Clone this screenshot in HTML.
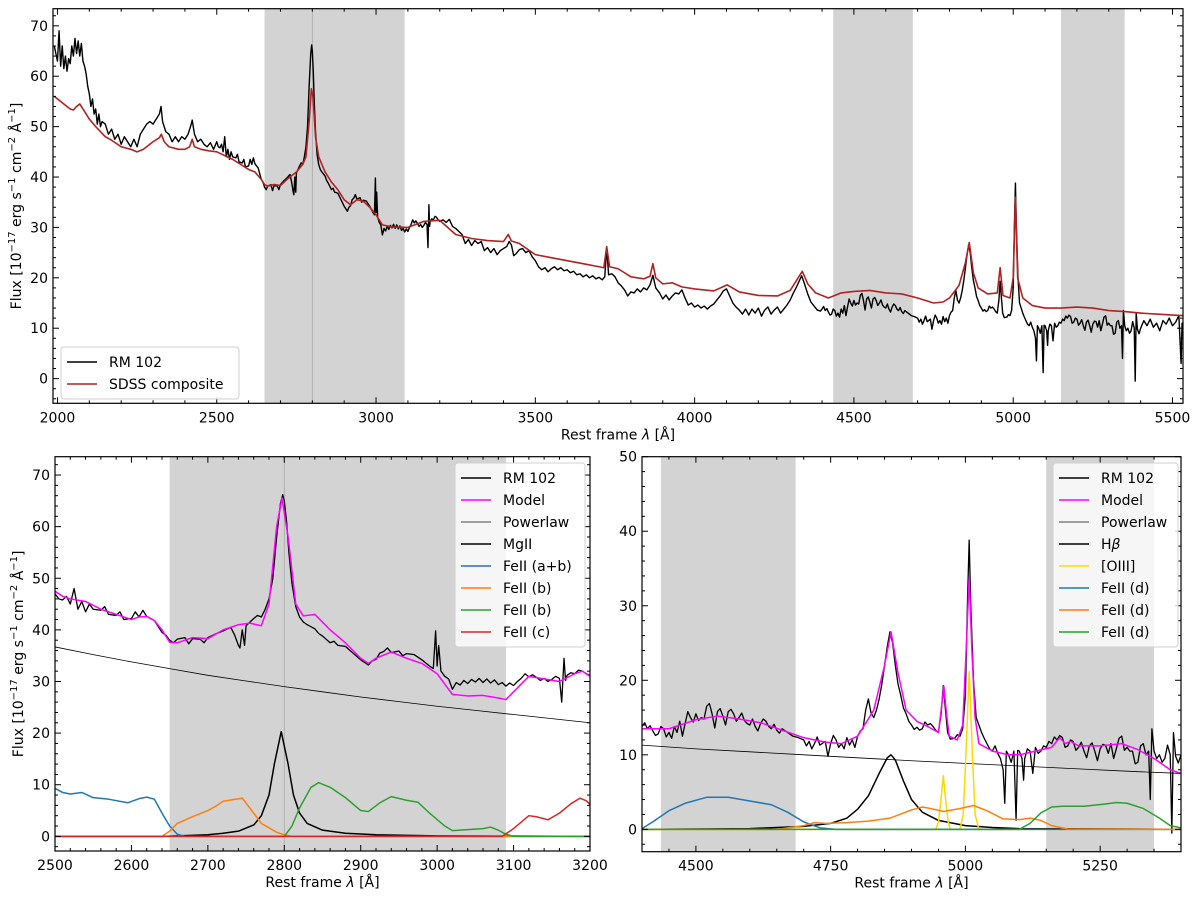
<!DOCTYPE html>
<html><head><meta charset="utf-8"><style>
html,body{margin:0;padding:0;background:#fff;}
svg{display:block;font-family:"DejaVu Sans","Liberation Sans",sans-serif;}
</style></head><body>
<svg id="fig" width="1200" height="900" viewBox="0 0 1200 900" xmlns="http://www.w3.org/2000/svg"></svg>
<script>
// ---------- DATA ----------
const rm102 = [[1990,66],[2000,63],[2005,69],[2010,62],[2015,66],[2020,61.5],[2025,64],[2030,61],[2035,63.5],[2040,62.5],[2045,66],[2050,64],[2055,67.5],[2060,64.5],[2065,67],[2070,64],[2075,66.5],[2080,63],[2085,62],[2090,60.5],[2095,58],[2100,56.5],[2105,54],[2110,55.5],[2115,52.5],[2120,53.5],[2125,50.5],[2130,52.5],[2135,50],[2140,51],[2150,50.5],[2160,48.5],[2170,49.5],[2180,47.5],[2190,48.5],[2200,46.5],[2210,48],[2220,47],[2230,46],[2240,47.5],[2250,46],[2260,48.5],[2270,49.5],[2280,50.5],[2290,51],[2300,50.5],[2310,51.5],[2320,52.5],[2325,54],[2330,51],[2340,49],[2350,48.5],[2360,47],[2370,48],[2380,47],[2390,48],[2400,47.5],[2410,48.5],[2420,50.5],[2423,51.3],[2430,48.5],[2440,47],[2450,47.5],[2460,46.5],[2470,46],[2480,46.8],[2490,45.5],
[2500,47],[2505,46],[2510,45.8],[2515,46.5],[2520,45],[2525,48],[2530,44],[2535,45.5],[2540,43.5],[2545,45],[2550,44],[2560,43.8],[2565,44.5],[2570,43],[2580,42.8],[2585,43.5],[2590,42],[2600,42.2],[2605,43.5],[2610,42.5],[2615,43.8],[2620,42.6],[2630,41.8],[2640,39.5],[2645,39],[2650,38],[2655,37.5],[2660,38.2],[2670,38.5],[2675,37.3],[2680,38.3],[2690,38.2],[2695,37.5],[2700,38.5],[2710,39.2],[2720,39.8],[2730,40.5],[2735,39],[2740,37],[2742,36.5],[2745,40],[2748,37],[2750,40.8],[2760,42.2],[2765,42.8],[2770,42.5],[2775,44],[2780,46],[2785,50],[2790,58],[2795,64.5],[2798,66.2],[2800,65],[2803,61],[2806,55],[2810,49],[2815,44.5],[2820,42.5],[2825,41.5],[2830,41],[2840,40.2],[2845,39.3],[2850,38.8],[2860,37.5],[2865,37.8],[2870,37],[2880,36.8],[2890,35.5],[2900,34.2],[2910,33.2],[2915,34],[2920,34.3],[2925,35.5],[2930,35.8],[2935,36.5],[2940,35.6],[2950,35.9],[2955,35],[2960,35.4],[2970,35.2],[2980,34.2],[2990,33],[2995,32.5],[2998,39.8],[3000,33],[3002,37],[3005,32],[3010,31],[3015,30.5],[3020,28.5],[3025,29.8],[3030,29.3],[3035,30.2],[3040,29.6],[3045,30.4],[3050,29.9],[3055,30.6],[3060,29.8],[3065,30.5],[3070,29.7],[3075,30.3],[3080,29.4],[3085,29.8],[3090,29.1],[3095,29.7],[3100,29.2],[3105,30],[3110,30.6],[3115,31.5],[3120,30.9],[3125,31.3],[3130,30.8],[3135,30.2],[3140,30.6],[3145,30],[3150,30.4],[3155,31],[3160,30.6],[3163,26],[3166,34.5],[3168,30.2],[3170,31.2],[3175,31.7],[3180,31.5],[3185,32.2],[3190,32],[3195,31.5],[3200,31.2],
[3210,31.5],[3220,31.0],[3230,31.6],[3240,30.2],[3250,29.8],[3260,29.2],[3270,28.6],[3280,26.8],[3290,27.6],[3300,26.4],[3310,27.4],[3320,26.8],[3330,27.2],[3340,25.4],[3350,26],[3360,25],[3370,25.8],[3380,24.6],[3390,25.4],[3400,25.8],[3410,26.2],[3418,27.2],[3425,26.5],[3432,24.4],[3440,24.8],[3450,25.6],[3460,25.8],[3470,25],[3480,25.4],[3490,24.2],[3500,23.4],[3510,22.2],[3520,21.6],[3530,22],[3540,21.2],[3550,21.8],[3560,22.2],[3570,21.6],[3580,22],[3590,21.4],[3600,21.6],[3610,21],[3620,21.3],[3630,20.6],[3640,20.8],[3650,20.2],[3660,20.6],[3670,20],[3680,20.4],[3690,19.8],[3700,20.1],[3710,19.6],[3718,20.2],[3724,26],[3730,20.6],[3740,20.8],[3750,20.2],[3760,19],[3770,18.4],[3780,17.6],[3790,16.4],[3800,17.2],[3810,17],[3820,17.8],[3830,17.2],[3840,18],[3850,17.6],[3860,18.6],[3869,20.5],[3878,18],[3890,17],[3900,15.8],[3910,16.6],[3920,15.6],[3930,16.4],[3940,17],[3950,16.8],[3960,17.6],[3970,16],[3980,14.6],[3990,15],[4000,14.2],[4010,14.6],[4020,14],[4030,14.4],[4040,13.8],[4050,14.4],[4060,14.8],[4070,15.6],[4080,16.4],[4090,17.4],[4100,17.8],[4110,16.4],[4120,15],[4130,14.2],[4140,13.6],[4150,12.8],[4160,13.8],[4170,12.6],[4180,13.8],[4190,13],[4200,14],[4210,12.4],[4220,13.6],[4230,14.2],[4240,12.8],[4250,13.6],[4260,14.2],[4270,13],[4280,13.8],[4290,14.6],[4300,15.6],[4310,17],[4320,18.2],[4330,19.6],[4336,20.4],[4345,18.8],[4355,16.8],[4365,15.2],[4375,14.4],[4385,13.6],[4395,13.4],
[4400,13.8],[4405,14.3],[4410,13.5],[4415,13.9],[4420,13.2],[4425,12.6],[4430,12.8],[4435,13.8],[4440,13.5],[4445,12.4],[4450,13],[4455,12.2],[4460,13.8],[4465,13],[4470,14.5],[4475,12.5],[4480,14.2],[4485,15.8],[4490,15],[4495,14.4],[4500,15.5],[4505,14.6],[4510,15],[4515,14.8],[4520,16.5],[4525,16.9],[4530,15.5],[4535,13.6],[4540,15.8],[4545,16.2],[4550,15.2],[4555,14],[4560,15.8],[4565,16.1],[4570,15.5],[4575,14.5],[4580,15],[4585,15.6],[4590,14.6],[4595,14.2],[4600,14],[4605,14.8],[4610,13.8],[4615,13.2],[4620,14.2],[4625,14.8],[4630,14.5],[4635,13.8],[4640,13.5],[4645,14.1],[4650,13.3],[4655,12.9],[4660,13.5],[4670,13],[4680,12.5],[4690,12.3],[4700,12],[4705,11.2],[4710,11.8],[4715,10.8],[4720,11.5],[4725,12.4],[4730,11.3],[4740,11.8],[4745,9.8],[4750,11.5],[4755,12.6],[4760,12],[4765,11],[4770,11.5],[4775,10.8],[4780,12.3],[4785,11.3],[4790,12],[4795,11],[4800,12.5],[4805,13.2],[4810,13.5],[4815,16],[4820,17.5],[4825,15.6],[4830,15],[4835,16],[4840,17.5],[4845,19.5],[4850,22],[4855,24.5],[4860,26.5],[4865,25],[4870,22],[4875,19.5],[4880,18],[4885,16.3],[4890,15.5],[4895,14.5],[4900,14],[4905,13.4],[4910,13.7],[4915,13.3],[4920,13.5],[4925,14.4],[4930,14],[4935,14.2],[4940,13.8],[4945,13.3],[4950,13],[4955,15.5],[4959,19.3],[4963,16],[4967,13],[4972,12.1],[4980,12.2],[4985,12.7],[4990,12.5],[4995,13.5],[5000,18],[5004,31],[5007,38.8],[5010,30],[5015,20],[5020,15],[5025,14],[5030,13],[5035,12.2],[5040,11.5],[5045,10.8],[5050,10.5],[5055,11.2],[5060,10.2],[5065,9.5],[5070,8],[5073,3.5],[5076,10.5],[5080,10],[5085,9],[5090,10.5],[5094,1.2],[5097,10.6],[5100,10.5],[5105,9.5],[5108,6.6],[5110,9.5],[5115,10.8],[5120,10.5],[5125,7.5],[5130,11],[5135,10.2],[5140,10.5],[5145,11.2],[5150,11],[5155,11.8],[5160,11.5],[5165,12.4],[5170,12],[5175,12.6],[5180,12.3],[5185,11],[5190,11.2],[5195,12],[5200,11.8],[5205,10.6],[5210,11],[5215,11.7],[5220,10.5],[5225,9.6],[5230,11.2],[5235,11.6],[5240,10.5],[5245,9.2],[5250,10.8],[5255,11.4],[5260,11.3],[5265,10.2],[5270,11.5],[5275,9.5],[5280,10.8],[5285,12.2],[5290,12.5],[5295,10.6],[5300,11],[5305,10.5],[5310,10.5],[5315,8.8],[5320,9],[5325,11.2],[5330,11.5],[5335,10],[5340,10.5],[5343,4],[5346,13.5],[5350,10.5],[5355,9.5],[5360,10],[5365,9],[5370,9.5],[5375,11.3],[5380,10],[5383,-0.5],[5386,13],[5390,9.8],[5395,8.9],[5400,10],
[5410,11.5],[5420,10.5],[5430,11.8],[5440,10.2],[5450,11],[5460,9.5],[5470,11.5],[5480,10.8],[5490,12],[5500,10.5],[5510,11.2],[5520,12.5],[5527,3],[5530,11],[5533,11]];

const sdssComposite = [[1990,56],[2000,55.5],[2020,54.5],[2040,53.5],[2050,53.3],[2060,54],[2070,54.5],[2080,53.5],[2100,51.5],[2120,50],[2150,48],[2170,47.3],[2200,46],[2230,45.5],[2250,45],[2270,45.5],[2300,47],[2320,47.8],[2326,48.5],[2335,47],[2350,46],[2380,45.5],[2400,45.5],[2415,46],[2423,47.5],[2430,46],[2450,45.5],[2475,45.2],[2500,45],[2550,43.5],[2600,41.5],[2620,41],[2640,39.5],[2650,38.5],[2660,38.2],[2680,38.5],[2700,38.3],[2720,39.5],[2750,41],[2770,42.5],[2780,44],[2790,51],[2797,57.5],[2802,56],[2810,48],[2820,44],[2840,41],[2860,39],[2880,37.5],[2900,35.5],[2920,34.5],[2940,35.5],[2960,35.2],[2980,34],[3000,32.5],[3020,30.5],[3050,30.1],[3100,30],[3150,31.2],[3200,31.4],[3250,28.6],[3300,27.8],[3350,27.4],[3400,27.2],[3415,28.6],[3425,27.3],[3450,26.8],[3500,24.6],[3550,24],[3600,23.4],[3650,22.8],[3700,22.2],[3715,22],[3724,26.2],[3733,22.2],[3760,21.8],[3800,20.2],[3840,19.8],[3860,20.3],[3869,22.8],[3878,20],[3900,18.8],[3930,19],[3960,18.2],[4000,17.8],[4060,17.4],[4102,18.6],[4140,17.2],[4200,16.5],[4260,16.4],[4300,17.5],[4320,19.5],[4338,21.3],[4355,18.8],[4380,17],[4420,16],[4460,17],[4500,17.3],[4550,17.5],[4600,17],[4650,16.8],[4700,16],[4750,15],[4780,15.2],[4800,16],[4830,18.5],[4850,23],[4862,27],[4875,21],[4890,18],[4920,16.8],[4950,17],[4959,22],[4968,16.5],[4990,16],[5000,20],[5007,36],[5014,20],[5030,16],[5060,14.5],[5100,14],[5150,14],[5200,14.2],[5250,14],[5300,13.5],[5350,13.3],[5400,13],[5450,12.8],[5500,12.6],[5533,12.5]];

// Bottom-left components
const mgModel = [[2500,47.5],[2510,46.5],[2520,46],[2540,45.5],[2560,44],[2580,43],[2600,42],[2610,42.5],[2620,42.6],[2630,41.8],[2640,40],[2650,37.6],[2660,37.5],[2680,38.5],[2700,38.3],[2720,40],[2740,41],[2755,41.3],[2770,40.8],[2780,45],[2790,60],[2797,65.5],[2805,58],[2815,45],[2825,42.7],[2840,43],[2860,40],[2880,37.5],[2900,34.5],[2910,33.5],[2920,34.5],[2940,35.7],[2960,34.5],[2980,33.5],[3000,31.5],[3020,27.5],[3040,27.2],[3060,27.3],[3080,26.8],[3090,26.5],[3100,28],[3120,31],[3140,30.5],[3160,30],[3180,31.5],[3190,32],[3200,31]];
const mgPowerlaw = [[2500,36.7],[2550,35.2],[2600,33.8],[2650,32.5],[2700,31.2],[2750,30.1],[2800,29.0],[2850,28.0],[2900,27.0],[2950,26.1],[3000,25.2],[3050,24.4],[3100,23.6],[3150,22.8],[3200,22.0]];
const mgLine = [[2500,0],[2640,0],[2660,0.1],[2700,0.3],[2720,0.6],[2740,1.0],[2760,2.2],[2770,4],[2780,8],[2787,14],[2796,20.3],[2805,14],[2812,8],[2820,4.5],[2830,2.5],[2850,1.2],[2880,0.6],[2920,0.3],[3000,0.1],[3200,0]];
const feAB = [[2500,9.3],[2510,8.5],[2520,8.2],[2535,8.5],[2550,7.5],[2570,7.2],[2595,6.5],[2610,7.3],[2620,7.6],[2630,7.2],[2640,4.5],[2650,2],[2660,0.4],[2670,0],[3200,0]];
const feB1 = [[2500,0],[2640,0],[2650,1],[2660,2.5],[2680,3.8],[2700,5],[2710,5.8],[2720,6.8],[2745,7.4],[2760,4.5],[2770,2.5],[2790,0.8],[2800,0.3],[2810,0],[3200,0]];
const feB2 = [[2500,0],[2800,0],[2810,2],[2820,5.5],[2835,9.5],[2845,10.4],[2860,9.5],[2880,7.5],[2900,5],[2910,4.8],[2925,6.5],[2940,7.7],[2960,7],[2975,6.6],[2990,4.5],[3010,2],[3020,1.1],[3040,1.3],[3060,1.5],[3070,1.8],[3080,1.2],[3090,0.4],[3100,0],[3200,0]];
const feC = [[2500,0],[3085,0],[3100,1.5],[3120,4],[3130,3.8],[3145,3.2],[3160,4.5],[3175,6.3],[3187,7.4],[3195,6.9],[3200,6.2]];

// Bottom-right components
const hbModel = [[4400,13.5],[4450,13.5],[4500,14.7],[4540,15.2],[4580,14.8],[4620,14.3],[4660,13.3],[4700,12.3],[4740,11.7],[4770,11.5],[4800,12.5],[4830,16],[4850,22],[4862,26.5],[4875,21],[4890,16],[4910,14.5],[4930,13.8],[4950,13],[4955,16],[4960,19.2],[4965,15.5],[4970,12.5],[4985,12],[4995,14],[5002,25],[5007,33.8],[5012,24],[5018,15],[5025,11.5],[5050,10.5],[5080,10],[5100,10],[5130,10.5],[5160,11],[5175,12.3],[5185,11.5],[5195,11.8],[5210,11.2],[5250,11.2],[5290,11.5],[5320,10.7],[5350,9.5],[5380,8],[5400,7.5]];
const hbPowerlaw = [[4400,11.3],[4500,10.8],[4600,10.4],[4700,10.0],[4800,9.6],[4900,9.2],[5000,8.85],[5100,8.5],[5200,8.15],[5300,7.8],[5400,7.5]];
const hbLine = [[4400,0],[4600,0.1],[4700,0.4],[4750,0.8],[4780,1.5],[4800,2.7],[4820,4.5],[4840,7.5],[4855,9.6],[4862,10],[4870,9.3],[4885,6.5],[4900,4],[4920,2.3],[4950,1.2],[5000,0.5],[5050,0.25],[5100,0.1],[5400,0]];
const oiii = [[4400,0],[4945,0],[4950,1],[4954,3.5],[4959,7.2],[4964,3.5],[4968,1],[4972,0],[4990,0],[4996,2],[5001,10],[5007,21.2],[5013,10],[5018,2],[5025,0],[5400,0]];
const feD1 = [[4400,0.1],[4420,1],[4450,2.5],[4480,3.5],[4520,4.3],[4560,4.3],[4600,3.8],[4640,3.3],[4670,2.3],[4700,1],[4730,0.2],[4760,0],[5400,0]];
const feD2 = [[4400,0],[4650,0],[4700,0.5],[4720,0.9],[4740,0.8],[4780,0.9],[4820,1.1],[4860,1.5],[4900,2.6],[4920,3],[4935,2.8],[4960,2.4],[4990,2.8],[5015,3.2],[5040,2.5],[5070,1.4],[5100,1.3],[5120,1.5],[5140,1.2],[5160,0.5],[5190,0.05],[5400,0]];
const feD3 = [[4400,0],[5100,0],[5120,0.8],[5140,2.2],[5160,3],[5180,3.1],[5220,3.1],[5260,3.4],[5280,3.6],[5300,3.5],[5330,2.8],[5360,1.5],[5380,0.5],[5400,0.2]];

const bandsTop = [[2650,3090],[4435,4685],[5150,5350]];
const bandsLeft = [[2650,3090]];
const bandsRight = [[4435,4685],[5150,5350]];
const xTicksTop = [2000,2500,3000,3500,4000,4500,5000,5500];
const xTicksLeft = [2500,2600,2700,2800,2900,3000,3100,3200];
const xTicksRight = [4500,4750,5000,5250];
const yTicks70 = [0,10,20,30,40,50,60,70];
const yTicks50 = [0,10,20,30,40,50];

// ---------- DRAWING ----------
const NS = 'http://www.w3.org/2000/svg';
const svg = document.getElementById('fig');
function mk(tag, attrs, parent){
  const e = document.createElementNS(NS, tag);
  for (const k in attrs) e.setAttribute(k, attrs[k]);
  (parent||svg).appendChild(e);
  return e;
}
function panel(cfg){
  const g = mk('g', {});
  
  
  const sx = v => cfg.x0 + (v - cfg.xl[0]) / (cfg.xl[1]-cfg.xl[0]) * (cfg.x1-cfg.x0);
  const sy = v => cfg.y1 - (v - cfg.yl[0]) / (cfg.yl[1]-cfg.yl[0]) * (cfg.y1-cfg.y0);
  const cid = 'clip-' + cfg.name;
  const cp = mk('clipPath', {id: cid}, g);
  mk('rect', {x:cfg.x0, y:cfg.y0, width:cfg.x1-cfg.x0, height:cfg.y1-cfg.y0}, cp);
  const inner = mk('g', {'clip-path':'url(#'+cid+')'}, g);
  return {g, inner, sx, sy, cfg};
}
function bands(p, arr){
  arr.forEach(b => {
    const r = mk('rect', {x:p.sx(b[0]), y:p.cfg.y0, width:p.sx(b[1])-p.sx(b[0]), height:p.cfg.y1-p.cfg.y0, fill:'#d3d3d3'}, p.inner);
    
    
  });
}
function vline(p, w){
  const l = mk('line', {x1:p.sx(w), x2:p.sx(w), y1:p.cfg.y0, y2:p.cfg.y1, stroke:'#a8a8a8', 'stroke-width':0.8}, p.inner);
  
  
}
function series(p, data, color, w, name){
  const pts = data.map(d => p.sx(d[0]).toFixed(2)+','+p.sy(d[1]).toFixed(2)).join(' ');
  const l = mk('polyline', {points:pts, fill:'none', stroke:color, 'stroke-width':w, 'stroke-linejoin':'round'}, p.inner);
  
  
}
function axes(p, xt, xminor, yt, yminor, showYLabels){
  const c = p.cfg;
  const fr = mk('rect', {x:c.x0, y:c.y0, width:c.x1-c.x0, height:c.y1-c.y0, fill:'none', stroke:'#000', 'stroke-width':1.2}, p.g);
  
  
  const tg = mk('g', {stroke:'#000', 'stroke-width':1}, p.g);
  
  
  for (let v = Math.ceil(c.xl[0]/xminor)*xminor; v <= c.xl[1]; v += xminor){
    const X = p.sx(v);
    const major = xt.indexOf(v) >= 0;
    const L = major ? 6 : 3;
    mk('line', {x1:X, x2:X, y1:c.y1, y2:c.y1-L}, tg);
    mk('line', {x1:X, x2:X, y1:c.y0, y2:c.y0+L}, tg);
  }
  for (let v = Math.ceil(c.yl[0]/yminor)*yminor; v <= c.yl[1]; v += yminor){
    const Y = p.sy(v);
    const major = yt.indexOf(v) >= 0;
    const L = major ? 6 : 3;
    mk('line', {x1:c.x0, x2:c.x0+L, y1:Y, y2:Y}, tg);
    mk('line', {x1:c.x1, x2:c.x1-L, y1:Y, y2:Y}, tg);
  }
  xt.forEach(v => {
    const t = mk('text', {x:p.sx(v), y:c.y1+19, 'text-anchor':'middle', 'font-size':14, fill:'#000'}, p.g);
    t.textContent = v;
    
    
  });
  yt.forEach(v => {
    const t = mk('text', {x:c.x0-5, y:p.sy(v)+5, 'text-anchor':'end', 'font-size':14, fill:'#000'}, p.g);
    t.textContent = v;
    
    
  });
  const xl = mk('text', {x:(c.x0+c.x1)/2, y:c.y1+36, 'text-anchor':'middle', 'font-size':14, fill:'#000'}, p.g);
  xl.innerHTML = 'Rest frame <tspan font-style="italic">λ</tspan> [Å]';
  
  
  if (showYLabels){
    const cy = (c.y0+c.y1)/2;
    const yl = mk('text', {x:0, y:0, transform:'translate('+(c.x0-32)+','+cy+') rotate(-90)', 'text-anchor':'middle', 'font-size':14, fill:'#000'}, p.g);
    yl.innerHTML = 'Flux [10<tspan dy="-6" font-size="10">−17</tspan><tspan dy="6"> erg s</tspan><tspan dy="-6" font-size="10">−1</tspan><tspan dy="6"> cm</tspan><tspan dy="-6" font-size="10">−2</tspan><tspan dy="6"> Å</tspan><tspan dy="-6" font-size="10">−1</tspan><tspan dy="6">]</tspan>';
    
    
  }
}
function legend(p, x, y, w, entries){
  const h = entries.length*22 + 8;
  const lg = mk('g', {}, p.g);
  
  
  mk('rect', {x:x, y:y, width:w, height:h, rx:3, fill:'#fff', 'fill-opacity':0.8, stroke:'#d0d0d0', 'stroke-width':1}, lg);
  entries.forEach((e, i) => {
    const cy = y + 15 + i*22;
    const eg = mk('g', {}, lg);
    
    
    mk('line', {x1:x+6, x2:x+36, y1:cy, y2:cy, stroke:e[1], 'stroke-width':1.6}, eg);
    const t = mk('text', {x:x+48, y:cy+5, 'font-size':14, fill:'#000'}, eg);
    t.innerHTML = e[0];
  });
}

// Top panel
const pt = panel({name:'top-panel', x0:53, x1:1183, y0:8.7, y1:403.3, xl:[1986,5533], yl:[-4.9,73.4]});
bands(pt, bandsTop);
vline(pt, 2800);
series(pt, rm102, '#000', 1.4, 'rm102-spectrum');
series(pt, sdssComposite, '#b22222', 1.6, 'sdss-composite-line');
axes(pt, xTicksTop, 100, yTicks70, 2, true);
legend(pt, 61, 347, 178, [['RM 102','#000'],['SDSS composite','#b22222']]);

// Bottom-left panel
const pl = panel({name:'mgii-panel', x0:55, x1:590, y0:456.7, y1:851, xl:[2500,3200], yl:[-2.84,73.55]});
bands(pl, bandsLeft);
vline(pl, 2800);
series(pl, rm102, '#000', 1.3, 'rm102-spectrum');
series(pl, mgModel, '#ff00ff', 1.5, 'model-line');
series(pl, mgPowerlaw, '#000', 0.8, 'powerlaw-line');
series(pl, mgLine, '#000', 1.5, 'mgii-line');
series(pl, feAB, '#1f77b4', 1.5, 'feii-ab-line');
series(pl, feB1, '#ff7f0e', 1.5, 'feii-b-orange-line');
series(pl, feB2, '#2ca02c', 1.5, 'feii-b-green-line');
series(pl, feC, '#d62728', 1.5, 'feii-c-line');
axes(pl, xTicksLeft, 20, yTicks70, 2, true);
legend(pl, 455, 463, 130, [['RM 102','#000'],['Model','#ff00ff'],['Powerlaw','#808080'],['MgII','#000'],['FeII (a+b)','#1f77b4'],['FeII (b)','#ff7f0e'],['FeII (b)','#2ca02c'],['FeII (c)','#d62728']]);

// Bottom-right panel
const pr = panel({name:'hbeta-panel', x0:642, x1:1181, y0:456.7, y1:851.7, xl:[4400,5400], yl:[-3,50]});
bands(pr, bandsRight);
series(pr, rm102, '#000', 1.3, 'rm102-spectrum');
series(pr, hbModel, '#ff00ff', 1.5, 'model-line');
series(pr, hbPowerlaw, '#000', 0.8, 'powerlaw-line');
series(pr, hbLine, '#000', 1.5, 'hbeta-line');
series(pr, oiii, '#ffd700', 1.5, 'oiii-line');
series(pr, feD1, '#1f77b4', 1.5, 'feii-d-blue-line');
series(pr, feD2, '#ff7f0e', 1.5, 'feii-d-orange-line');
series(pr, feD3, '#2ca02c', 1.5, 'feii-d-green-line');
axes(pr, xTicksRight, 50, yTicks50, 2, false);
legend(pr, 1053, 463, 125, [['RM 102','#000'],['Model','#ff00ff'],['Powerlaw','#808080'],['H<tspan font-style="italic">β</tspan>','#000'],['[OIII]','#ffd700'],['FeII (d)','#1f77b4'],['FeII (d)','#ff7f0e'],['FeII (d)','#2ca02c']]);
</script>
</body></html>
